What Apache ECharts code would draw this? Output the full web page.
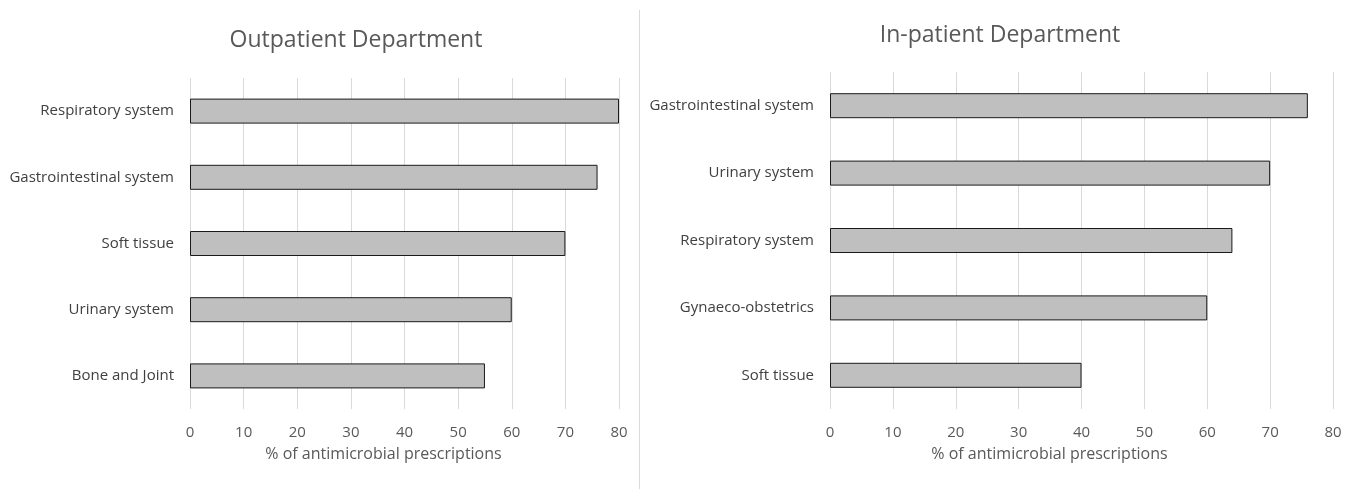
<!DOCTYPE html>
<html><head><meta charset="utf-8">
<script src="https://cdn.jsdelivr.net/npm/echarts@6/dist/echarts.min.js"></script>
<style>html,body{margin:0;padding:0;background:#fff}#c{width:1359px;height:489px}</style>
</head><body><div id="c"></div>
<script>
const outCategories = ["Respiratory system","Gastrointestinal system","Soft tissue","Urinary system","Bone and Joint"];
const outValues = [80, 76, 70, 60, 55];
const inCategories = ["Gastrointestinal system","Urinary system","Respiratory system","Gynaeco-obstetrics","Soft tissue"];
const inValues = [76, 70, 64, 60, 40];
const titles = ["Outpatient Department","In-patient Department"];
const axisName = "% of antimicrobial prescriptions";

const FONT = "Open Sans";
const chart = echarts.init(document.getElementById('c'));
function xAxis(i, shift){
  return {gridIndex:i,type:'value',min:0,max:80,interval:10,
    name:axisName,nameLocation:'middle',nameGap:37,
    nameTextStyle:{color:'#595959',fontSize:16,fontFamily:FONT,padding:[0,shift*2,0,0]},
    axisLine:{show:false},axisTick:{show:false},
    axisLabel:{color:'#595959',fontSize:15,fontFamily:FONT,margin:16},
    splitLine:{lineStyle:{color:'#d9d9d9',width:1}}};
}
function yAxis(i,cats){
  return {gridIndex:i,type:'category',data:cats.slice().reverse(),
    axisLine:{show:false},axisTick:{show:false},
    axisLabel:{color:'#404040',fontSize:15,fontFamily:FONT,margin:16}};
}
function series(i,vals){
  return {type:'bar',xAxisIndex:i,yAxisIndex:i,data:vals.slice().reverse(),barWidth:25,
    itemStyle:{color:'#bfbfbf',borderColor:'#1a1a1a',borderWidth:1},silent:true};
}
chart.setOption({
  animation:false,
  title:[
    {text:titles[0],left:351,top:24,textAlign:'center',textStyle:{color:'#595959',fontSize:23,fontWeight:'normal',fontFamily:FONT}},
    {text:titles[1],left:995,top:19,textAlign:'center',textStyle:{color:'#595959',fontSize:23,fontWeight:'normal',fontFamily:FONT}}
  ],
  grid:[
    {left:190,width:429,top:78,height:331},
    {left:830,width:503,top:72,height:337}
  ],
  xAxis:[xAxis(0,21),xAxis(1,32)],
  yAxis:[yAxis(0,outCategories),yAxis(1,inCategories)],
  series:[series(0,outValues),series(1,inValues)],
  graphic:[{type:'line',shape:{x1:639.5,y1:10,x2:639.5,y2:489},style:{stroke:'#d9d9d9',lineWidth:1}}]
});
</script></body></html>
